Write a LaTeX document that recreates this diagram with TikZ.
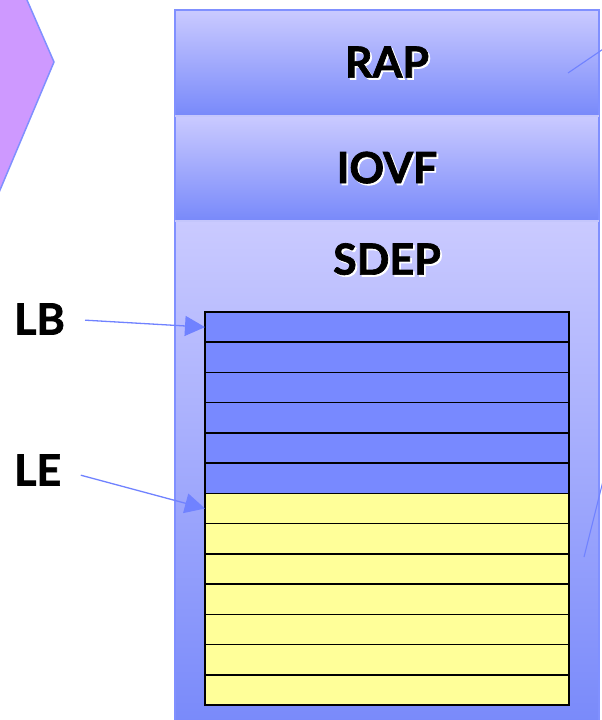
\documentclass[tikz,border=0pt]{standalone}
\usepackage{fontspec}
\setmainfont{Lato}[BoldFeatures={FakeBold=1.6}]
\usetikzlibrary{arrows.meta}

% colours of the memory layout
\definecolor{boxtop}{RGB}{202,202,255}
\definecolor{boxbot}{RGB}{120,137,250}
\definecolor{boxedge}{RGB}{128,144,255}
\definecolor{boxsep}{RGB}{196,198,252}
\definecolor{rowblue}{RGB}{120,137,255}
\definecolor{rowyellow}{RGB}{255,255,153}
\definecolor{pointer}{RGB}{112,130,255}
\definecolor{tabfill}{RGB}{206,153,255}

% bold title with a small white drop shadow
\newcommand\shadowed[1]{\makebox[0pt][l]{\hspace{1.8pt}\raisebox{-1.8pt}{\color{white}#1}}#1}

\tikzset{
  region/.style={minimum width=424pt, inner sep=0pt, outer sep=0pt,
    top color=boxtop, bottom color=boxbot, font=\fontsize{43}{43}\bfseries},
  title/.style={inner sep=0pt, font=\fontsize{43}{43}\bfseries},
  slot/.style={draw=black, line width=1.6pt, minimum width=364pt,
    minimum height=30.23pt, inner sep=0pt, outer sep=0pt},
  pointerline/.style={draw=pointer, line width=1.3pt},
  pointerarrow/.style={pointerline, shorten <=20pt,
    -{Triangle[length=20pt,width=20pt]}},
}

\begin{document}
\begin{tikzpicture}[x=1pt,y=-1pt]
  \useasboundingbox (0,0) rectangle (602,720);
  \clip (0,0) rectangle (602,720);

  % neighbouring tab on the left
  \filldraw[fill=tabfill, draw=boxedge, line width=1.5pt]
    (20,-10) -- (27,0) -- (54,62) -- (0,190) -- (-10,212) -- (-10,-10) -- cycle;

  % stacked regions
  \node[region, minimum height=106pt] (rap)  at (387,63)  {\shadowed{RAP}};
  \node[region, minimum height=105pt] (iovf) at (387,168.5) {\shadowed{IOVF}};
  \node[region, minimum height=509pt] (sdep) at (387,475.5) {};
  \node[title] (sdeptitle) at (387,260) {\shadowed{SDEP}};

  % frame of the column and the seams between regions
  \draw[boxedge, line width=1.6pt] (rap.north west) rectangle (sdep.south east);
  \draw[boxsep, line width=1.2pt] (rap.south west) -- (rap.south east);
  \draw[boxsep, line width=1.2pt] (iovf.south west) -- (iovf.south east);

  % slots of the list: six used, seven free
  \foreach \i in {1,...,13}{
    \pgfmathsetmacro\yc{312+(\i-0.5)*30.23}
    \ifnum\i<7
      \node[slot, fill=rowblue] (r\i) at (387,\yc) {};
    \else
      \node[slot, fill=rowyellow] (r\i) at (387,\yc) {};
    \fi
  }

  % list pointers
  \node[title, anchor=west] (lb) at (14,319) {LB};
  \node[title, anchor=west] (le) at (14,470) {LE};
  \draw[pointerarrow] (lb.east) -- (r1.west);
  \draw[pointerarrow] (le.east) -- (r7.west);

  % connectors leaving the column to the right
  \coordinate (rapin) at (568,73);
  \coordinate (rapout) at (640,24);
  \coordinate (sdepin) at (584,557);
  \coordinate (sdepout) at (610,453);
  \draw[pointerline, line width=1.1pt] (rapin) -- (rapout);
  \draw[pointerline, line width=1.1pt] (sdepin) -- (sdepout);
\end{tikzpicture}
\end{document}
